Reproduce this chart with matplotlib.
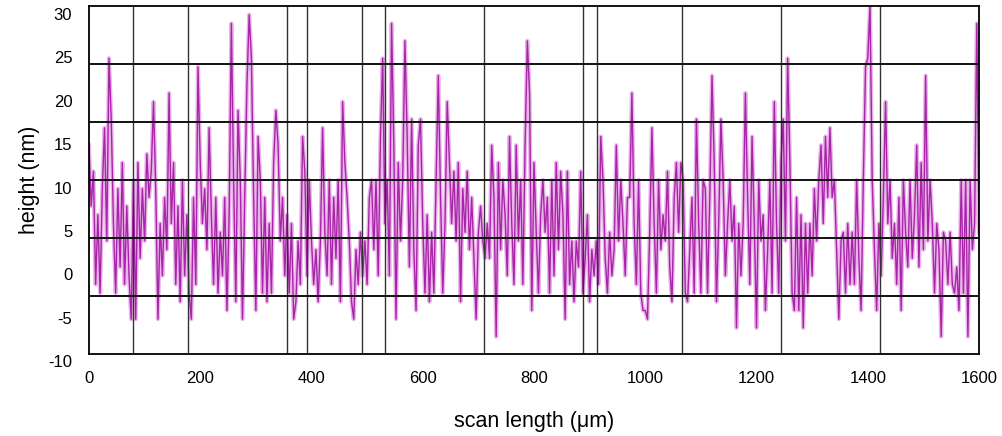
import matplotlib.pyplot as plt
import matplotlib.transforms as mtransforms
import numpy as np

plt.rcParams['font.family'] = ['Liberation Sans', 'DejaVu Sans']
plt.rcParams['axes.unicode_minus'] = False

# surface profile, one list per 200 um stretch, sampled every 4 um
seg1 = [14, 7, 11, -2, 6, -3, 9, 16, 3, 24, 17, 5, -3, 9, 0, 12, -2, 7, -1, -6,
        10, -6, 12, 1, 9, 3, 13, 8, 11, 19, 9, -6, 5, -1, 8, 2, 20, 5, 12, -2,
        7, -4, 10, -1, 6, -3, -6, 8, -2, 23]
seg2 = [12, 5, 9, 2, 16, 6, -2, 8, -3, 4, -1, 8, -5, 6, 28, 10, -4, 18, 10, -6,
        8, 21, 29, 24, 8, -5, 15, 10, -3, 8, -4, 5, -3, 12, 18, 14, 3, 8, -1, 6,
        -3, 5, -6, -4, 3, -2, 15, 11, -1, 10]
seg3 = [3, -2, 2, -4, 3, 16, 4, -1, 10, -2, 8, 1, 10, -4, 19, 12, 8, 3, -4, -6,
        2, -2, 4, -1, 3, -2, 8, 10, 2, 10, -1, 15, 24, 5, 10, -1, 28, 14, -6, 12,
        3, 10, 26, 15, 0, 17, 2, -5, 14, 17]
seg4 = [5, -3, 6, -4, 4, -3, 10, 22, 8, -3, 5, 19, 12, 5, 11, 3, 12, -4, 9, 4,
        11, 2, 8, 1, -6, 4, 7, 3, 1, 5, 1, 14, 8, -8, 12, 2, 10, 6, -1, 15,
        5, -2, 14, 3, 10, -2, 14, 26, 20, -5]
seg5 = [12, 4, -3, 6, 10, 4, 8, -3, 10, -1, 12, 2, 11, 6, -6, 11, -2, 3, -4, 3,
        0, 11, -3, 1, 6, -4, 2, -1, 3, -2, 15, 10, 1, -3, 4, -1, 2, 14, 3, 10,
        5, -1, 8, 8, 20, 5, -2, 10, -3, -5]
seg6 = [-5, -6, 4, 16, 5, -3, 10, 2, 6, 3, 11, 0, -4, 8, 12, 4, 12, 10, -3, -4,
        2, 8, -3, 17, 5, -3, 10, 9, -3, 8, 22, 12, -4, 5, 17, 10, -1, 5, 10, 3,
        7, -7, 5, -1, 5, 20, 8, -2, 15, 5]
seg7 = [-7, 10, 3, 6, -5, 2, 10, -3, 19, 5, -3, 12, 17, 3, 24, 12, -3, -5, 8, -5,
        6, -7, 5, -3, 5, -1, 9, 3, 10, 14, 5, 15, 8, 16, 8, 10, 2, -6, 3, 4,
        -3, 5, -2, 4, -2, 10, 1, -5, 10, 23]
seg8 = [24, 30, 10, 2, -5, 5, -1, 8, 19, 5, 10, 1, 5, -2, 8, -5, 10, 4, 0, 10,
        1, 6, 14, 0, 12, 2, 22, 3, 10, 5, -3, 5, 2, -8, 4, 3, -2, 4, -2, -3,
        0, -5, 10, -3, 10, -8, 10, 2, 5, 28, 4]

height = np.array(seg1 + seg2 + seg3 + seg4 + seg5 + seg6 + seg7 + seg8, dtype=float)
scan = np.linspace(0, 1600, len(height))

x_ticks = [0, 200, 400, 600, 800, 1000, 1200, 1400, 1600]
y_ticks = [-10, -5, 0, 5, 10, 15, 20, 25, 30]
# the grid in the original does not follow the tick labels
vgrid = [79, 178, 356, 392, 491, 532, 710, 888, 913, 1066, 1244, 1422]
hgrid = [-10 + 40 / 6 * k for k in range(1, 6)]

fig = plt.figure(figsize=(10.03, 4.36), dpi=100)
ax = fig.add_axes([0.0887, 0.1881, 0.8874, 0.7981])

ax.plot(scan, height, color='#eab4ea', lw=3.0, zorder=1)
ax.plot(scan, height, color='#a824a8', lw=1.0, zorder=2)

for xv in vgrid:
    ax.axvline(xv, color='#333333', lw=1.0, zorder=3)
for yv in hgrid:
    ax.axhline(yv, color='#111111', lw=1.4, zorder=3)

ax.set_xlim(0, 1600)
ax.set_ylim(-10, 30)
ax.set_xticks(x_ticks)
ax.set_yticks(y_ticks)
ax.tick_params(length=0, labelsize=12)
ax.tick_params(axis='x', pad=12)
ax.tick_params(axis='y', pad=12)

shift = mtransforms.ScaledTranslation(0, -0.075, fig.dpi_scale_trans)
for lab in ax.get_yticklabels():
    lab.set_transform(lab.get_transform() + shift)

for s in ax.spines.values():
    s.set_linewidth(1.3)
    s.set_color('black')
    s.set_zorder(4)

ax.set_xlabel('scan length (\u03bcm)', fontsize=15.5, labelpad=18)
ax.set_ylabel('height (nm)', fontsize=15.5, labelpad=6)

fig.savefig('out.png', dpi=100)
